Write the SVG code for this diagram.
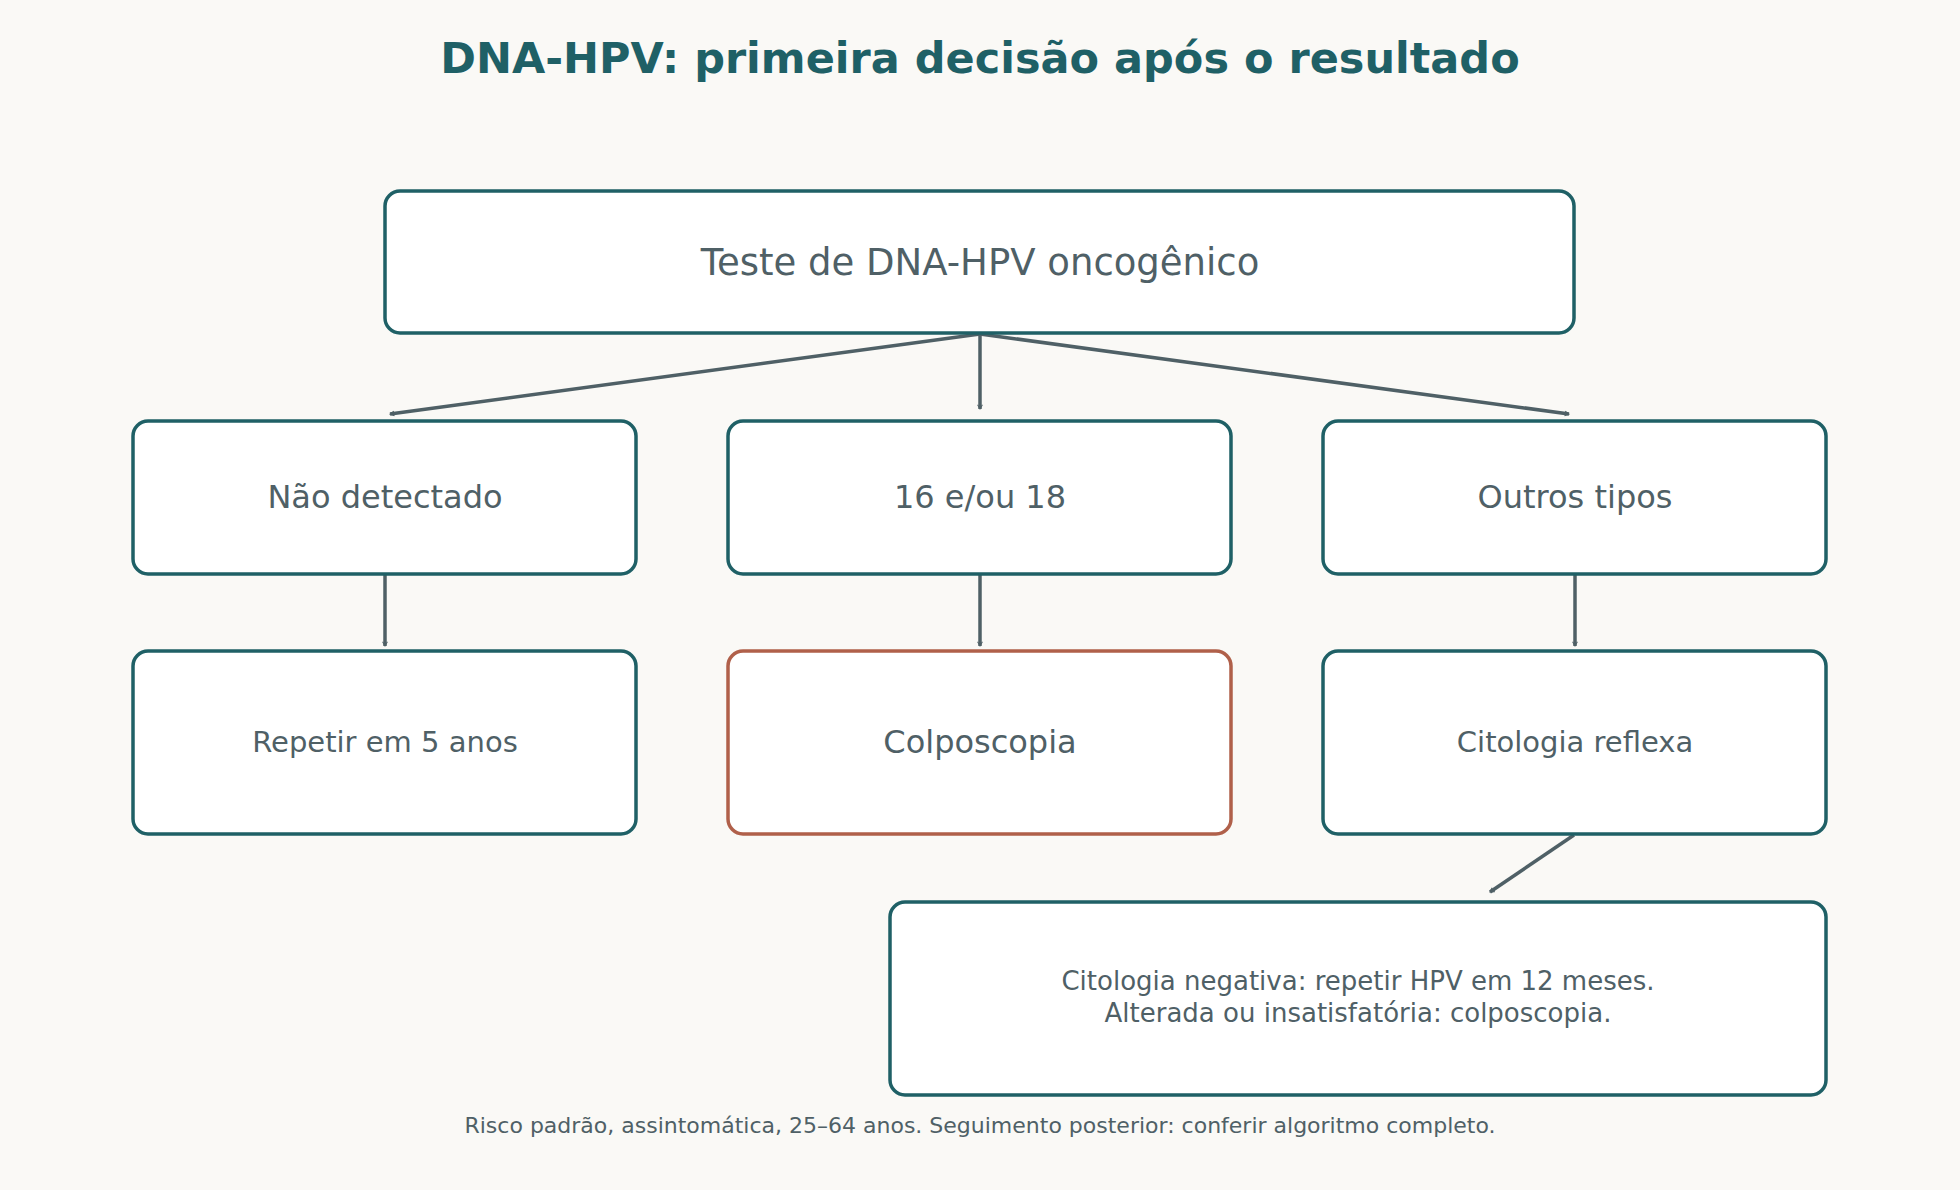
<svg xmlns="http://www.w3.org/2000/svg" width="1960" height="1190" viewBox="0 0 1960 1190">
<style>
.box{fill:#fff;stroke:#1f6066;stroke-width:3.5}
.alt{stroke:#b0604a}
.t{font-family:"DejaVu Sans",sans-serif;fill:#4f6066;text-anchor:middle;dominant-baseline:central}
.c{stroke:#4f6066;stroke-width:3.5;fill:none;marker-end:url(#a)}
</style>
<defs><marker id="a" viewBox="0 0 20 20" refX="17" refY="10" markerWidth="6" markerHeight="6" orient="auto" markerUnits="userSpaceOnUse" overflow="visible"><path d="M3,2 L17,10 L3,18" fill="none" stroke="#4f6066" stroke-width="3.5" transform="scale(1)"/></marker></defs>
<rect width="1960" height="1190" fill="#faf9f6"/>
<text x="980" y="58" class="t" style="font-size:43px;font-weight:bold;fill:#1f6066">DNA-HPV: primeira decisão após o resultado</text>
<g id="connectors">
<path class="c" d="M980,334 L390,414"/>
<path class="c" d="M980,334 L980,409"/>
<path class="c" d="M980,334 L1569,414"/>
<path class="c" d="M385,574 L385,646"/>
<path class="c" d="M980,574 L980,646"/>
<path class="c" d="M1575,574 L1575,646"/>
<path class="c" d="M1574,835 L1490,892"/>
</g>
<g id="n1"><rect class="box" x="385" y="191" width="1189" height="142" rx="15"/><text class="t" x="980" y="262" font-size="37">Teste de DNA-HPV oncogênico</text></g>
<g id="n2"><rect class="box" x="133" y="421" width="503" height="153" rx="15"/><text class="t" x="385" y="497" font-size="32">Não detectado</text></g>
<g id="n3"><rect class="box" x="728" y="421" width="503" height="153" rx="15"/><text class="t" x="980" y="497" font-size="32">16 e/ou 18</text></g>
<g id="n4"><rect class="box" x="1323" y="421" width="503" height="153" rx="15"/><text class="t" x="1575" y="497" font-size="32">Outros tipos</text></g>
<g id="n5"><rect class="box" x="133" y="651" width="503" height="183" rx="15"/><text class="t" x="385" y="742" font-size="29">Repetir em 5 anos</text></g>
<g id="n6"><rect class="box alt" x="728" y="651" width="503" height="183" rx="15"/><text class="t" x="980" y="742" font-size="32">Colposcopia</text></g>
<g id="n7"><rect class="box" x="1323" y="651" width="503" height="183" rx="15"/><text class="t" x="1575" y="742" font-size="29">Citologia reflexa</text></g>
<g id="n8"><rect class="box" x="890" y="902" width="936" height="193" rx="15"/><text class="t" x="1358" y="981" font-size="26">Citologia negativa: repetir HPV em 12 meses.</text><text class="t" x="1358" y="1013" font-size="26">Alterada ou insatisfatória: colposcopia.</text></g>
<text class="t" x="980" y="1125" font-size="22">Risco padrão, assintomática, 25–64 anos. Seguimento posterior: conferir algoritmo completo.</text>
</svg>
